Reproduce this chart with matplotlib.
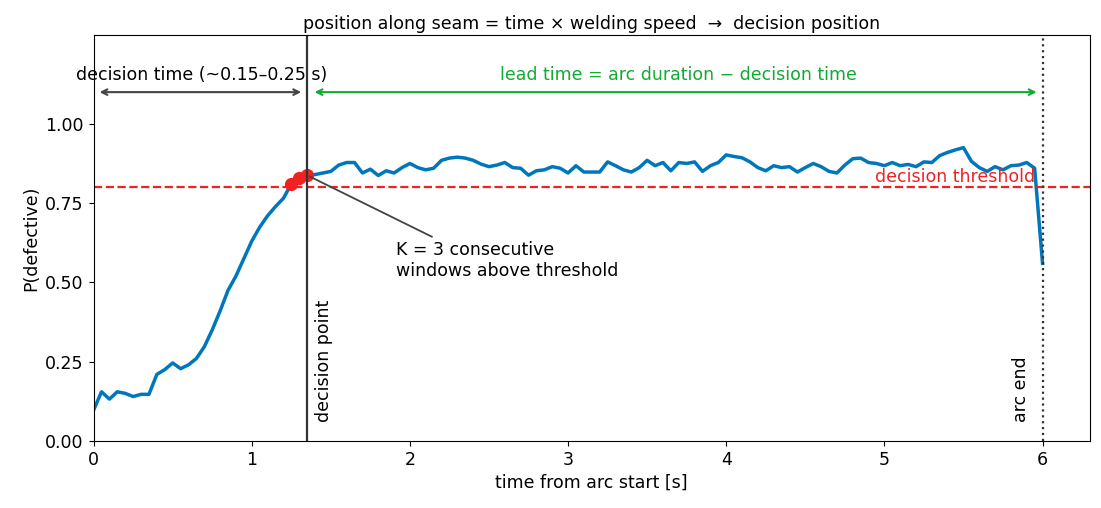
import numpy as np
import matplotlib
matplotlib.use("Agg")
import matplotlib.pyplot as plt

# P(defective) per window, 0.05 s step
p_defect = [
    0.097, 0.155, 0.132, 0.155, 0.150, 0.140, 0.147, 0.147, 0.210, 0.225,
    0.246, 0.228, 0.240, 0.260, 0.297, 0.350, 0.410, 0.475, 0.520, 0.575,
    0.630, 0.674, 0.710, 0.739, 0.765, 0.810, 0.830, 0.838,
    0.840, 0.845, 0.850, 0.870, 0.878, 0.878, 0.845, 0.857, 0.837, 0.852,
    0.845, 0.862, 0.875, 0.862, 0.855, 0.860, 0.885, 0.892, 0.895, 0.892,
    0.885, 0.873, 0.865, 0.870, 0.878, 0.862, 0.860, 0.838, 0.852, 0.855,
    0.865, 0.860, 0.845, 0.868, 0.848, 0.848, 0.848, 0.880, 0.868, 0.855,
    0.848, 0.862, 0.885, 0.868, 0.878, 0.852, 0.878, 0.875, 0.880, 0.850,
    0.868, 0.878, 0.902, 0.897, 0.893, 0.880, 0.862, 0.852, 0.868, 0.862,
    0.865, 0.848, 0.862, 0.875, 0.865, 0.850, 0.845, 0.870, 0.890, 0.892,
    0.878, 0.875, 0.868, 0.878, 0.868, 0.872, 0.865, 0.880, 0.878, 0.900,
    0.910, 0.918, 0.925, 0.882, 0.862, 0.850, 0.865, 0.855, 0.868, 0.870,
    0.878, 0.860, 0.560,
]
dt = 0.05
t = np.arange(len(p_defect)) * dt
threshold = 0.80
k_idx = [25, 26, 27]          # K consecutive windows above threshold
t_decision = t[k_idx[-1]]
t_end = t[-1]

fs = 12.5
fig = plt.figure(figsize=(11.01, 5.08), dpi=100)
ax = fig.add_axes([0.085, 0.132, 0.905, 0.799])

ax.plot(t, p_defect, color="#0077bb", lw=2.5)
ax.axhline(threshold, color="#ee2222", ls="--", lw=1.6)
ax.plot(t[k_idx], np.array(p_defect)[k_idx], "o", color="#ee2222", ms=8.5)
ax.axvline(t_decision, color="#333333", lw=1.6)
ax.axvline(t_end, color="#333333", ls=":", lw=1.6)

ax.set_xlim(0, 6.3)
ax.set_ylim(0, 1.28)
ax.set_yticks([0, 0.25, 0.5, 0.75, 1.0])
ax.set_xlabel("time from arc start [s]", fontsize=fs)
ax.set_ylabel("P(defective)", fontsize=fs)
ax.tick_params(labelsize=fs)
ax.set_title("position along seam = time × welding speed  →  decision position",
             fontsize=fs, pad=4)

ax.text(5.95, 0.805, "decision threshold", color="#ee2222", ha="right",
        va="bottom", fontsize=fs)
ax.text(t_decision + 0.05, 0.06, "decision point", rotation=90, ha="left",
        va="bottom", fontsize=fs)
ax.text(t_end - 0.08, 0.06, "arc end", rotation=90, ha="right",
        va="bottom", fontsize=fs)

ax.annotate("", xy=(0.02, 1.1), xytext=(t_decision - 0.02, 1.1),
            arrowprops=dict(arrowstyle="<->", color="#444444", lw=1.5))
ax.text(0.68, 1.125, "decision time (~0.15–0.25 s)", ha="center",
        va="bottom", fontsize=fs)
ax.annotate("", xy=(t_decision + 0.03, 1.1), xytext=(t_end - 0.02, 1.1),
            arrowprops=dict(arrowstyle="<->", color="#11aa33", lw=1.5))
ax.text(3.7, 1.125, "lead time = arc duration − decision time", ha="center",
        va="bottom", color="#11aa33", fontsize=fs)

ax.annotate("K = 3 consecutive\nwindows above threshold",
            xy=(t_decision, p_defect[k_idx[-1]]), xytext=(1.91, 0.57),
            ha="left", va="center", fontsize=fs,
            arrowprops=dict(arrowstyle="-", color="#444444", lw=1.3,
                            relpos=(0.2, 1.0)))

fig.savefig("out.png", dpi=100)
